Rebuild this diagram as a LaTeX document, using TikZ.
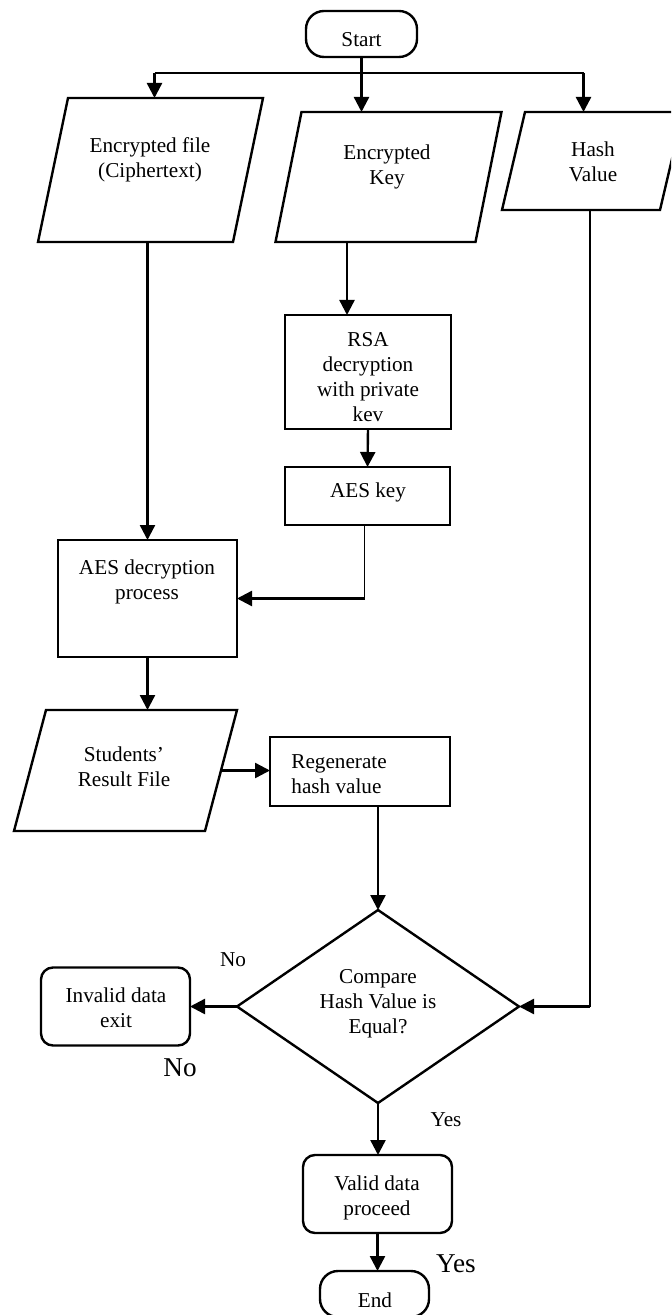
\documentclass[tikz,border=0pt]{standalone}
\usepackage{fontspec}
\setmainfont{Liberation Serif}
\usetikzlibrary{arrows.meta,shapes.geometric,calc}

% Input/output parallelogram: name, centre x, centre y, edge width, height, slant
\newcommand\dataio[6]{%
  \coordinate (#1-nw) at ({#2-#4/2+#6/2},{#3-#5/2});
  \coordinate (#1-ne) at ({#2+#4/2+#6/2},{#3-#5/2});
  \coordinate (#1-se) at ({#2+#4/2-#6/2},{#3+#5/2});
  \coordinate (#1-sw) at ({#2-#4/2-#6/2},{#3+#5/2});
  \coordinate (#1-n) at ({#2+#6/2},{#3-#5/2});
  \coordinate (#1-s) at ({#2-#6/2},{#3+#5/2});
  \coordinate (#1-e) at ({#2+#4/2},{#3});
  \draw[shapeline] (#1-nw) -- (#1-ne) -- (#1-se) -- (#1-sw) -- cycle;
}

\tikzset{
  shapeline/.style={line width=1.2pt, line join=miter},
  procbox/.style={draw, shapeline, rectangle, inner sep=0pt, outer sep=0pt},
  roundbox/.style={procbox, rounded corners=6pt},
  termbox/.style={procbox, rounded corners=9pt},
  decision/.style={draw, shapeline, diamond, inner sep=0pt, outer sep=0pt},
  txt/.style={inner sep=0pt, align=center, font=\fontsize{10.6}{12.5}\selectfont},
  flow/.style={line width=1.2pt, -{Triangle[length=7.5pt,width=7.5pt]}},
  plainflow/.style={line width=1.2pt},
  thinline/.style={line width=0.6pt},
  smalllabel/.style={inner sep=0pt, font=\fontsize{10.6}{12.5}\selectfont},
  biglabel/.style={inner sep=0pt, font=\fontsize{13.6}{16}\selectfont},
}

\begin{document}
\begin{tikzpicture}[x=0.5pt, y=-0.5pt]
  \useasboundingbox (0,0) rectangle (671,1315);
  \fill[white] (0,0) rectangle (671,1315);
  \clip (0,0) rectangle (671,1315);

  % terminals
  \node[termbox, minimum width=55.5pt, minimum height=23pt] (start) at (361.5,34) {};
  \node[txt] (t-start) at (361.5,40) {Start};
  \node[termbox, minimum width=54.5pt, minimum height=23pt] (end) at (374.5,1294) {};
  \node[txt] (t-end) at (375,1300) {End};

  % inputs
  \dataio{encfile}{150.5}{170}{195}{144}{30}
  \node[txt] (t-encfile) at (150,160) {Encrypted file\\(Ciphertext)};
  \dataio{enckey}{388.5}{177}{200}{130}{26}
  \node[txt] (t-enckey) at (387,167) {Encrypted\\Key};
  \dataio{hash}{592.5}{161}{158}{98}{23}
  \node[txt] (t-hash) at (593,162) {Hash\\Value};

  % processing
  \node[procbox, minimum width=83pt, minimum height=57pt] (rsa) at (368,372) {};
  \node[txt] (t-rsa) at (368,377) {RSA\\decryption\\with private\\kev};
  \node[procbox, minimum width=82.5pt, minimum height=29pt] (aeskey) at (367.5,496) {};
  \node[txt] (t-aeskey) at (368,492) {AES key};
  \node[procbox, minimum width=89.5pt, minimum height=58.5pt] (aesdec) at (147.5,598.5) {};
  \node[txt] (t-aesdec) at (147,582) {AES decryption\\process};

  \dataio{students}{125.5}{770.5}{191}{121}{32}
  \node[txt] (t-students) at (124,767) {Students’\\Result File};
  \node[procbox, minimum width=90pt, minimum height=34.5pt] (regen) at (360,771.5) {};
  \node[txt, anchor=west, align=left] (t-regen) at (291,774) {Regenerate\\hash value};

  % decision and outcomes
  \node[decision, minimum width=141pt, minimum height=96.5pt] (cmp) at (378,1006.5) {};
  \node[txt] (t-cmp) at (378,1004) {Compare\\Hash Value is\\Equal?};
  \node[roundbox, minimum width=74.5pt, minimum height=39pt] (invalid) at (115.5,1006.5) {};
  \node[txt] (t-invalid) at (116,1008) {Invalid data\\exit};
  \node[roundbox, minimum width=74.5pt, minimum height=39pt] (valid) at (377.5,1194) {};
  \node[txt] (t-valid) at (377,1198) {Valid data\\proceed};

  % branch labels
  \node[smalllabel] (l-no) at (233,960) {No};
  \node[biglabel] (l-no2) at (180,1068) {No};
  \node[smalllabel] (l-yes) at (446,1120) {Yes};
  \node[biglabel] (l-yes2) at (456,1264) {Yes};

  % connectors from the start node
  \coordinate (split) at ($(start.south)+(0,16)$);
  \coordinate (splitL) at ($(split)+(-207,0)$);
  \coordinate (splitR) at ($(split)+(222,0)$);
  \draw[plainflow] (splitL) -- (splitR);
  \draw[flow] (start.south) -- (start.south |- enckey-n);
  \draw[flow] (splitL) -- (splitL |- encfile-n);
  \draw[flow] (splitR) -- (splitR |- hash-n);

  % key path
  \draw[flow] ([xshift=-10.5pt]rsa.north |- enckey-s) -- ([xshift=-10.5pt]rsa.north);
  \draw[flow] (rsa.south) -- (aeskey.north);
  \draw[thinline] ([xshift=-1.5pt]aeskey.south) -- ([xshift=-1.5pt]aeskey.south |- aesdec.east);
  \draw[flow] ([xshift=-1.5pt]aeskey.south |- aesdec.east) -- (aesdec.east);

  % file path
  \draw[flow] (aesdec.north |- encfile-s) -- (aesdec.north);
  \draw[flow] (aesdec.south) -- (aesdec.south |- students-n);
  \draw[flow] (students-e) -- (regen.west |- students-e);
  \draw[flow] (regen.south -| cmp.north) -- (cmp.north);

  % stored hash to the comparison
  \draw[thinline] ([xshift=4.5pt]hash-s) -- ([xshift=4.5pt]hash-s |- cmp.east);
  \draw[flow] ([xshift=4.5pt]hash-s |- cmp.east) -- (cmp.east);

  % outcomes
  \draw[flow] (cmp.west) -- (invalid.east);
  \draw[flow] (cmp.south) -- (cmp.south |- valid.north);
  \draw[flow] (valid.south) -- (valid.south |- end.north);
\end{tikzpicture}
\end{document}
